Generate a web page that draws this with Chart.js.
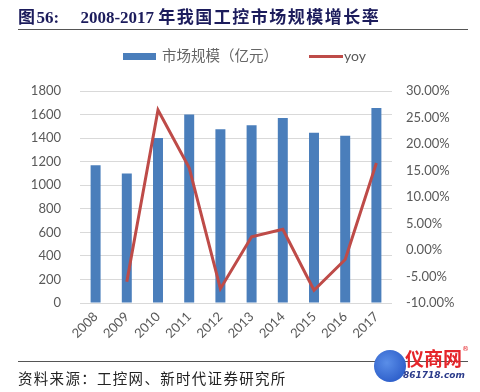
<!DOCTYPE html>
<html>
<head>
<meta charset="utf-8">
<script src="https://cdn.jsdelivr.net/npm/chart.js@4.4.0/dist/chart.umd.min.js"></script>
<style>
  html, body { margin: 0; padding: 0; background: #fff; }
  #wrap { position: relative; width: 480px; height: 392px; overflow: hidden; background: #fff; }
  #chartBox { position: absolute; left: 0; top: 0; width: 480px; height: 392px; }
  .abs { position: absolute; white-space: nowrap; }
  #title { left: 18px; top: 6px; font-family: "Liberation Serif", "Noto Sans CJK SC", serif; font-weight: bold; font-size: 17px; color: #1c1c5c; line-height: 20px; }
  #title .cjk { font-family: "Noto Sans CJK SC", sans-serif; letter-spacing: 1.5px; }
  .rule { position: absolute; left: 18px; width: 450px; height: 0; border-top: 1.5px solid #555; }
  #source { left: 18px; top: 368px; font-family: "Noto Sans CJK SC", sans-serif; font-size: 14.5px; color: #222; letter-spacing: 1.3px; line-height: 20px; }
</style>
</head>
<body>
<div id="wrap">
  <div id="chartBox"><canvas id="c" width="480" height="392"></canvas></div>
  <div id="title" class="abs"><span class="cjk">图</span>56:&nbsp;&nbsp;&nbsp;&nbsp;&nbsp;2008-2017 <span class="cjk">年我国工控市场规模增长率</span></div>
  <div class="rule" style="top:29px;"></div>
  <div class="abs" style="left:123px; top:53px; width:33px; height:7px; background:#4a7ebb;"></div>
  <div class="abs" style="left:162px; top:45px; font-family:'Noto Sans CJK SC',sans-serif; font-size:14.5px; color:#666; line-height:20px;">市场规模（亿元）</div>
  <div class="abs" style="left:309px; top:55px; width:34px; height:3px; background:#be4b48;"></div>
  <div class="abs" style="left:344px; top:46px; font-family:'Lato',sans-serif; font-size:14px; color:#595959; line-height:20px;">yoy</div>
  <div class="rule" style="top:361px;"></div>
  <div id="source" class="abs">资料来源：工控网、新时代证券研究所</div>
  <div class="abs" style="left:374px; top:350px; width:32px; height:32px; border-radius:50%; background:radial-gradient(circle at 40% 40%, #5a8ee8, #1f4fc0);"></div>
  <div class="abs" style="left:405px; top:346px; font-family:'Noto Sans CJK SC',sans-serif; font-weight:bold; font-size:19px; color:#e5252a; line-height:24px;">仪商网</div>
  <div class="abs" style="left:462px; top:345px; font-family:'DejaVu Sans',sans-serif; font-size:7px; color:#e5252a;">®</div>
  <div class="abs" style="left:403px; top:370px; font-family:'DejaVu Sans',sans-serif; font-weight:bold; font-style:italic; font-size:9px; color:#2a3a8a; line-height:11px;">861718.com</div>
</div>
<script>
const categories = ["2008","2009","2010","2011","2012","2013","2014","2015","2016","2017"];
const marketSize = [1170, 1100, 1400, 1600, 1475, 1510, 1570, 1445, 1420, 1655];
const yoy = [null, -6.0, 26.4, 15.5, -7.3, 2.5, 3.9, -7.6, -1.8, 16.4];
const leftTicks = [0, 200, 400, 600, 800, 1000, 1200, 1400, 1600, 1800];
const rightTicks = [-10, -5, 0, 5, 10, 15, 20, 25, 30];

const tickFont = { family: "Lato, 'Open Sans', sans-serif", size: 13 };
const tickColor = "#595959";

new Chart(document.getElementById("c"), {
  data: {
    labels: categories,
    datasets: [
      {
        type: "line",
        label: "yoy",
        data: yoy,
        yAxisID: "y1",
        borderColor: "#be4b48",
        borderWidth: 3,
        pointRadius: 0,
        tension: 0,
        spanGaps: false,
        order: 0
      },
      {
        type: "bar",
        label: "市场规模（亿元）",
        data: marketSize,
        yAxisID: "y",
        backgroundColor: "#4a7ebb",
        barPercentage: 0.32,
        categoryPercentage: 1.0,
        order: 1
      }
    ]
  },
  options: {
    responsive: false,
    animation: false,
    devicePixelRatio: 1,
    layout: { padding: { top: 91, left: 0, right: 0, bottom: 0 } },
    plugins: { legend: { display: false }, tooltip: { enabled: false } },
    scales: {
      x: {
        offset: true,
        grid: { display: false, drawTicks: false },
        border: { display: false },
        ticks: { font: tickFont, color: tickColor, minRotation: 45, maxRotation: 45, padding: 6 },
        afterFit: (s) => { s.height = 89; }
      },
      y: {
        position: "left",
        min: 0, max: 1800,
        afterBuildTicks: (s) => { s.ticks = leftTicks.map(v => ({ value: v })); },
        grid: { color: "#d9d9d9", lineWidth: 1, drawTicks: false },
        border: { display: false },
        ticks: { font: tickFont, color: tickColor, padding: 19, callback: (v) => String(v) },
        afterFit: (s) => { s.width = 80; }
      },
      y1: {
        position: "right",
        min: -10, max: 30,
        afterBuildTicks: (s) => { s.ticks = rightTicks.map(v => ({ value: v })); },
        grid: { display: false, drawTicks: false },
        border: { display: false },
        ticks: { font: tickFont, color: tickColor, padding: 14, callback: (v) => v.toFixed(2) + "%" },
        afterFit: (s) => { s.width = 88; }
      }
    }
  }
});
</script>
</body>
</html>
